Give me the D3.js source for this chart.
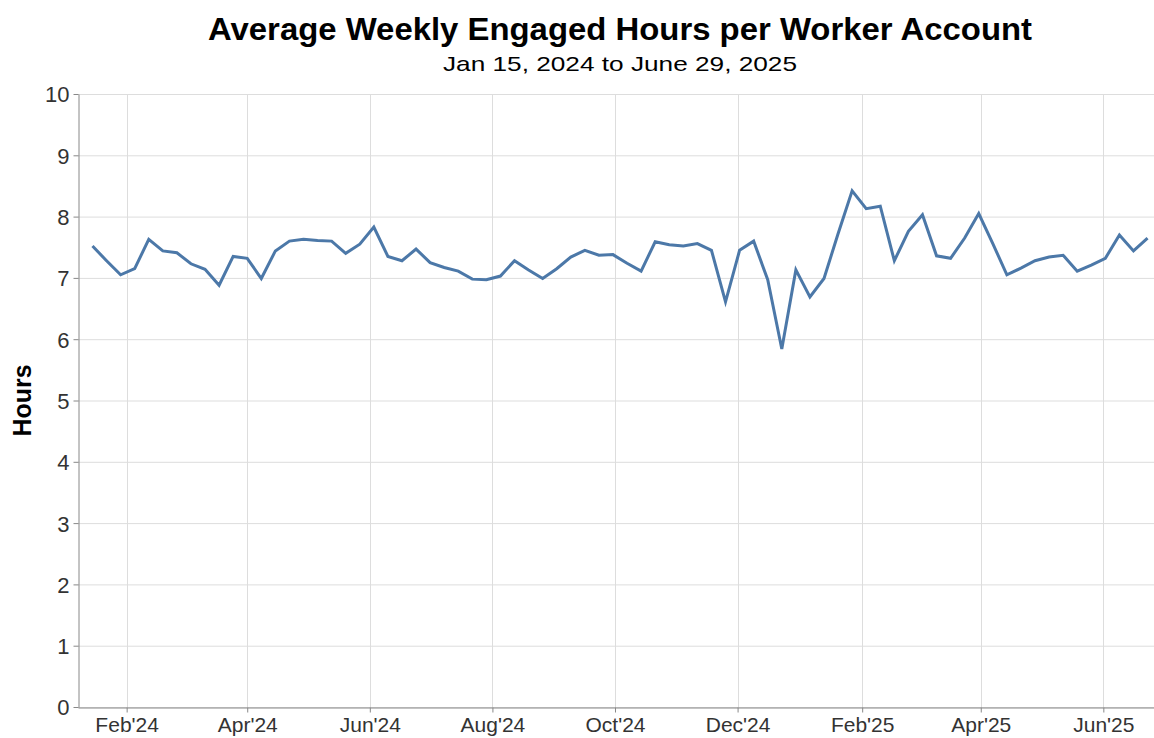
<!DOCTYPE html>
<html>
<head>
<meta charset="utf-8">
<script src="https://cdn.jsdelivr.net/npm/d3@7"></script>
<style>
  body { margin: 0; background: #fff; }
  text { font-family: "Liberation Sans", Arial, Helvetica, sans-serif; }
</style>
</head>
<body>
<div id="vis"></div>
<script>
const width = 1154;
const height = 738;

// weekly points, starting Monday Jan 15, 2024
const startDate = "2024-01-15";
const hours = [
  7.52, 7.28, 7.05, 7.15, 7.63, 7.44, 7.41, 7.23, 7.14, 6.88,
  7.35, 7.32, 6.99, 7.44, 7.60, 7.63, 7.61, 7.60, 7.40, 7.55,
  7.83, 7.35, 7.28, 7.47, 7.25, 7.17, 7.11, 6.98, 6.97, 7.03,
  7.28, 7.13, 6.99, 7.15, 7.34, 7.45, 7.37, 7.38, 7.24, 7.11,
  7.59, 7.54, 7.52, 7.56, 7.45, 6.61, 7.45, 7.60, 6.97, 5.84,
  7.13, 6.69, 6.99, 7.72, 8.42, 8.13, 8.17, 7.28, 7.76, 8.03,
  7.36, 7.32, 7.65, 8.05, 7.56, 7.05, 7.16, 7.28, 7.34, 7.37,
  7.11, 7.21, 7.32, 7.70, 7.44, 7.65
];
const yTicks = [0, 1, 2, 3, 4, 5, 6, 7, 8, 9, 10];
const xTickDates = ["2024-02-01", "2024-04-01", "2024-06-01", "2024-08-01", "2024-10-01",
  "2024-12-01", "2025-02-01", "2025-04-01", "2025-06-01"];

const parse = d3.utcParse("%Y-%m-%d");
const t0 = parse(startDate);
const data = hours.map((v, i) => ({ date: d3.utcDay.offset(t0, 7 * i), value: v }));

const margin = { top: 94, right: 0, bottom: 31, left: 78 };

const svg = d3.select("#vis")
  .append("svg")
  .attr("width", width)
  .attr("height", height);

const x = d3.scaleUtc()
  .domain([Date.UTC(2024, 0, 7, 19), Date.UTC(2025, 5, 26, 5)])
  .range([margin.left, width - margin.right]);

const y = d3.scaleLinear()
  .domain([0, 10])
  .range([height - margin.bottom, margin.top]);

// grid
svg.append("g")
  .selectAll("line")
  .data(yTicks)
  .join("line")
  .attr("x1", margin.left)
  .attr("x2", width)
  .attr("y1", d => y(d) + 0.5)
  .attr("y2", d => y(d) + 0.5)
  .attr("stroke", "#ddd");

svg.append("g")
  .selectAll("line")
  .data(xTickDates.map(parse))
  .join("line")
  .attr("x1", d => Math.round(x(d)) + 0.5)
  .attr("x2", d => Math.round(x(d)) + 0.5)
  .attr("y1", margin.top)
  .attr("y2", y(0))
  .attr("stroke", "#ddd");

// axes
const fmt = d3.utcFormat("%b'%y");
const xAxis = svg.append("g")
  .attr("transform", `translate(0,${y(0) + 0.5})`)
  .call(d3.axisBottom(x).tickValues(xTickDates.map(parse)).tickFormat(fmt).tickSize(5).tickSizeOuter(0).tickPadding(5));

const yAxis = svg.append("g")
  .attr("transform", `translate(${margin.left + 0.5},0)`)
  .call(d3.axisLeft(y).tickValues(yTicks).tickSize(5).tickSizeOuter(0).tickPadding(4));

[xAxis, yAxis].forEach(a => {
  a.select(".domain").attr("stroke", "#888");
  a.selectAll(".tick line").attr("stroke", "#888");
  a.selectAll(".tick text")
    .attr("fill", "#333")
    .style("font-size", "21px");
});
yAxis.selectAll(".tick text").attr("dy", "0.36em").style("font-size", "22px");

// line
const line = d3.line()
  .x(d => x(d.date))
  .y(d => y(d.value));

svg.append("path")
  .datum(data)
  .attr("fill", "none")
  .attr("stroke", "#4c78a8")
  .attr("stroke-width", 3)
  .attr("stroke-linejoin", "miter")
  .attr("d", line);

// titles
svg.append("text")
  .attr("x", 620)
  .attr("y", 40)
  .attr("text-anchor", "middle")
  .attr("textLength", 824)
  .attr("lengthAdjust", "spacingAndGlyphs")
  .style("font-size", "31px")
  .style("font-weight", "bold")
  .attr("fill", "#000")
  .text("Average Weekly Engaged Hours per Worker Account");

svg.append("text")
  .attr("x", 620)
  .attr("y", 71)
  .attr("text-anchor", "middle")
  .attr("textLength", 354)
  .attr("lengthAdjust", "spacingAndGlyphs")
  .style("font-size", "21px")
  .attr("fill", "#000")
  .text("Jan 15, 2024 to June 29, 2025");

svg.append("text")
  .attr("transform", `translate(31,${y(5)}) rotate(-90)`)
  .attr("text-anchor", "middle")
  .style("font-size", "25px")
  .style("font-weight", "bold")
  .attr("fill", "#000")
  .text("Hours");
</script>
</body>
</html>
